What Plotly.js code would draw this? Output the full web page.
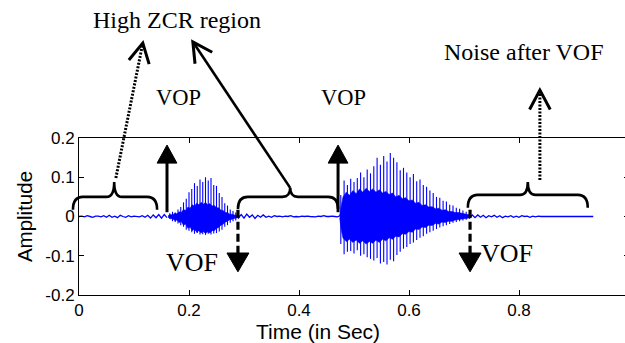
<!DOCTYPE html>
<html>
<head>
<meta charset="utf-8">
<script src="https://cdn.plot.ly/plotly-3.0.1.min.js"></script>
<style>
  html, body { margin: 0; padding: 0; overflow: hidden; background: #fff; }
  #chart { width: 640px; height: 343px; }
</style>
</head>
<body>
<div id="chart"></div>
<script>
// ---- Speech signal: low-level noise segments (sampled envelope, Hz) ----
const NOISE_RATE = 200;
const noiseLeadStart = 0.0;
const noiseLead = [0, 0.001, -0.001, 0.002, 0, -0.002, 0.001, 0.001, -0.001, 0.002, -0.002,
  0.003, -0.002, 0.001, -0.003, 0.003, 0, -0.002, 0.002, -0.001, 0.001, 0, -0.001,
  0.002, -0.002, 0.003, -0.004, 0.004, -0.003, 0.005, -0.004, 0.005, -0.003];
const noiseGapStart = 0.29;
const noiseGap = [-0.003, 0.005, -0.004, 0.006, -0.002, 0.004, -0.005, 0.003, -0.002, 0.004,
  -0.002, 0.001, -0.002, 0.002, 0, 0.001, -0.001, 0.001, 0, 0.002, -0.001, 0,
  -0.001, 0.001, 0, 0.001, 0, 0, -0.001, 0.001, 0, 0.002, 0, 0, 0.001, 0, -0.001, 0.002];
const noiseTailStart = 0.71;
const noiseTail = [-0.003, 0.004, -0.003, 0.004, -0.002, 0.003, -0.003, 0.002, -0.001, 0.003,
  -0.002, 0.002, -0.003, 0.001, -0.001, 0.002, -0.002, 0.001, -0.002, 0.002, 0, 0.001,
  -0.002, 0.001, -0.001, 0.001, 0, 0, 0, 0, 0, 0, 0, 0, 0, 0, 0, 0, 0, 0, 0, 0, 0, 0, 0, 0];

// ---- First voiced region: pitch pulses (peak/trough) and dense body ----
const v1PulseTime = [0.165, 0.170, 0.175, 0.180, 0.185, 0.190, 0.195, 0.200, 0.205, 0.210, 0.215,
  0.220, 0.225, 0.230, 0.235, 0.240, 0.245, 0.250, 0.255, 0.260, 0.265, 0.270, 0.275, 0.280, 0.285, 0.290];
const v1PulseHigh = [0.008, 0.012, 0.010, 0.018, 0.024, 0.036, 0.045, 0.062, 0.070, 0.085, 0.078,
  0.094, 0.088, 0.100, 0.092, 0.098, 0.080, 0.078, 0.060, 0.050, 0.034, 0.028, 0.018, 0.014, 0.010, 0.006];
const v1PulseLow = [-0.006, -0.012, -0.014, -0.018, -0.022, -0.026, -0.034, -0.036, -0.040, -0.044, -0.042,
  -0.046, -0.045, -0.047, -0.044, -0.046, -0.043, -0.042, -0.038, -0.034, -0.026, -0.022, -0.016, -0.012, -0.010, -0.006];
const v1BodyTime = [0.162, 0.166, 0.170, 0.174, 0.178, 0.182, 0.186, 0.190, 0.194, 0.198, 0.202, 0.206,
  0.210, 0.214, 0.218, 0.222, 0.226, 0.230, 0.234, 0.238, 0.242, 0.246, 0.250, 0.254, 0.258, 0.262,
  0.266, 0.270, 0.274, 0.278, 0.282, 0.286, 0.292];
const v1BodyHigh = [0.002, 0.005, 0.004, 0.008, 0.007, 0.012, 0.010, 0.018, 0.015, 0.024, 0.021, 0.030,
  0.026, 0.034, 0.030, 0.036, 0.031, 0.036, 0.030, 0.033, 0.027, 0.028, 0.022, 0.022, 0.016, 0.015,
  0.010, 0.010, 0.006, 0.006, 0.004, 0.003, 0.002];
const v1BodyLow = [-0.002, -0.006, -0.005, -0.010, -0.009, -0.015, -0.013, -0.022, -0.019, -0.030, -0.027, -0.036,
  -0.032, -0.040, -0.036, -0.042, -0.038, -0.043, -0.039, -0.042, -0.036, -0.036, -0.030, -0.028, -0.022, -0.020,
  -0.014, -0.012, -0.008, -0.007, -0.005, -0.003, -0.002];

// ---- Second voiced region ----
const v2PulseTime = [0.476, 0.482, 0.488, 0.494, 0.500, 0.506, 0.512, 0.518, 0.524, 0.530, 0.536, 0.542,
  0.548, 0.554, 0.560, 0.566, 0.572, 0.578, 0.584, 0.590, 0.596, 0.602, 0.608, 0.614, 0.620, 0.626,
  0.632, 0.638, 0.644, 0.650, 0.656, 0.662, 0.668, 0.674, 0.680, 0.686, 0.692, 0.698, 0.704, 0.710];
const v2PulseHigh = [0.055, 0.092, 0.080, 0.096, 0.088, 0.098, 0.112, 0.100, 0.120, 0.110, 0.128, 0.150,
  0.132, 0.154, 0.140, 0.162, 0.150, 0.138, 0.118, 0.124, 0.112, 0.100, 0.108, 0.090, 0.094, 0.080,
  0.076, 0.066, 0.060, 0.050, 0.048, 0.040, 0.038, 0.030, 0.028, 0.022, 0.020, 0.015, 0.012, 0.008];
const v2PulseLow = [-0.070, -0.096, -0.090, -0.088, -0.094, -0.086, -0.100, -0.096, -0.104, -0.108, -0.112, -0.106,
  -0.120, -0.116, -0.122, -0.110, -0.114, -0.098, -0.090, -0.082, -0.078, -0.070, -0.066, -0.060, -0.054, -0.050,
  -0.044, -0.040, -0.036, -0.032, -0.028, -0.025, -0.022, -0.019, -0.016, -0.014, -0.012, -0.010, -0.008, -0.006];
const v2BodyTime = [0.474, 0.477, 0.480, 0.486, 0.492, 0.498, 0.504, 0.510, 0.516, 0.522, 0.528, 0.534,
  0.540, 0.546, 0.552, 0.558, 0.564, 0.570, 0.576, 0.582, 0.588, 0.594, 0.600, 0.606, 0.612, 0.618,
  0.624, 0.630, 0.636, 0.642, 0.648, 0.654, 0.660, 0.666, 0.672, 0.678, 0.684, 0.690, 0.696, 0.702, 0.708, 0.713];
const v2BodyHigh = [0.004, 0.030, 0.050, 0.062, 0.054, 0.066, 0.058, 0.070, 0.062, 0.072, 0.064, 0.070,
  0.062, 0.068, 0.060, 0.064, 0.056, 0.060, 0.050, 0.054, 0.045, 0.048, 0.040, 0.042, 0.034, 0.036,
  0.028, 0.030, 0.024, 0.025, 0.020, 0.021, 0.016, 0.017, 0.013, 0.013, 0.010, 0.010, 0.008, 0.007, 0.005, 0.003];
const v2BodyLow = [-0.004, -0.035, -0.055, -0.064, -0.058, -0.066, -0.060, -0.068, -0.062, -0.070, -0.064, -0.068,
  -0.060, -0.066, -0.058, -0.062, -0.054, -0.058, -0.050, -0.052, -0.044, -0.045, -0.038, -0.040, -0.032, -0.033,
  -0.027, -0.028, -0.022, -0.023, -0.018, -0.019, -0.014, -0.015, -0.012, -0.012, -0.009, -0.009, -0.007, -0.006, -0.004, -0.003];

// ---- Axis ticks ----
const xTickVals = [0, 0.2, 0.4, 0.6, 0.8];
const xTickText = ['0', '0.2', '0.4', '0.6', '0.8'];
const yTickVals = [-0.2, -0.1, 0, 0.1, 0.2];
const yTickText = ['-0.2', '-0.1', '0', '0.1', '0.2'];

const BLUE = '#0000ff';
const FIG_W = 640, FIG_H = 343;
const M = { l: 79, r: 11, t: 138, b: 48 };
const PLOT_W = FIG_W - M.l - M.r;          // pixels per second (x range 0..1)
const PLOT_H = FIG_H - M.t - M.b;
const Y_MIN = -0.2, Y_MAX = 0.2;
const PX_PER_AMP = PLOT_H / (Y_MAX - Y_MIN);

// --- traces ---
function sampled(start, vals) {
  return { x: vals.map((_, i) => start + i / NOISE_RATE), y: vals };
}
function noiseTrace(start, vals) {
  const s = sampled(start, vals);
  return { type: 'scatter', mode: 'lines', x: s.x, y: s.y, line: { color: BLUE, width: 1.3 }, hoverinfo: 'skip' };
}
function bodyTrace(t, hi, lo) {
  return {
    type: 'scatter', mode: 'lines', fill: 'toself', fillcolor: BLUE,
    x: t.concat(t.slice().reverse()), y: hi.concat(lo.slice().reverse()),
    line: { color: BLUE, width: 0.6 }, hoverinfo: 'skip'
  };
}
function pulseTrace(t, hi, lo) {
  const x = [], y = [];
  t.forEach((ti, i) => { x.push(ti, ti, null); y.push(lo[i], hi[i], null); });
  return { type: 'scatter', mode: 'lines', x, y, line: { color: BLUE, width: 1.1 }, hoverinfo: 'skip', connectgaps: false };
}

const traces = [
  noiseTrace(noiseLeadStart, noiseLead),
  noiseTrace(noiseGapStart, noiseGap),
  noiseTrace(noiseTailStart, noiseTail),
  bodyTrace(v1BodyTime, v1BodyHigh, v1BodyLow),
  bodyTrace(v2BodyTime, v2BodyHigh, v2BodyLow),
  pulseTrace(v1PulseTime, v1PulseHigh, v1PulseLow),
  pulseTrace(v2PulseTime, v2PulseHigh, v2PulseLow)
];

// --- annotation geometry (time in s, amplitude) mapped to paper coords ---
const PX = t => t;                                // x range is [0, 1]
const PY = a => (a - Y_MIN) / (Y_MAX - Y_MIN);

function bracePath(x0, x1, xm, yBar, yEnd, yTip) {
  const r = 0.018, rt = 0.014;
  const b = PY(yBar);
  return `M${PX(x0)},${PY(yEnd)} Q${PX(x0)},${b} ${PX(x0 + r)},${b} L${PX(xm - rt)},${b} ` +
         `Q${PX(xm)},${b} ${PX(xm)},${PY(yTip)} Q${PX(xm)},${b} ${PX(xm + rt)},${b} ` +
         `L${PX(x1 - r)},${b} Q${PX(x1)},${b} ${PX(x1)},${PY(yEnd)}`;
}
function chevronPath(fromT, fromA, tipT, tipA, lenPx, angDeg) {
  const fx = fromT * PLOT_W, fy = fromA * PX_PER_AMP;
  const tx = tipT * PLOT_W, ty = tipA * PX_PER_AMP;
  const d = Math.hypot(tx - fx, ty - fy);
  const ux = (tx - fx) / d, uy = (ty - fy) / d;
  const a = angDeg * Math.PI / 180;
  const arm = s => {
    const rx = ux * Math.cos(s * a) - uy * Math.sin(s * a);
    const ry = ux * Math.sin(s * a) + uy * Math.cos(s * a);
    return [(tx - lenPx * rx) / PLOT_W, (ty - lenPx * ry) / PX_PER_AMP];
  };
  const p1 = arm(1), p2 = arm(-1);
  return `M${PX(p1[0])},${PY(p1[1])} L${PX(tipT)},${PY(tipA)} L${PX(p2[0])},${PY(p2[1])}`;
}
function triPath(t, baseA, tipA, halfW) {
  return `M${PX(t - halfW)},${PY(baseA)} L${PX(t + halfW)},${PY(baseA)} L${PX(t)},${PY(tipA)} Z`;
}
const pathShape = (path, opts) => Object.assign({
  type: 'path', xref: 'paper', yref: 'paper', path, layer: 'above',
  line: { color: '#000', width: 2.6 }
}, opts || {});
const lineShape = (t0, a0, t1, a1, width, dash) => ({
  type: 'line', xref: 'paper', yref: 'paper', layer: 'above',
  x0: PX(t0), y0: PY(a0), x1: PX(t1), y1: PY(a1),
  line: { color: '#000', width, dash: dash || 'solid' }
});

const shapes = [
  // braces over the unvoiced / noise regions
  pathShape(bracePath(-0.011, 0.142, 0.064, 0.050, 0.017, 0.088)),
  pathShape(bracePath(0.289, 0.471, 0.384, 0.050, 0.019, 0.073)),
  pathShape(bracePath(0.707, 0.925, 0.816, 0.055, 0.022, 0.088)),
  // VOP markers (solid up arrows)
  lineShape(0.160, 0.011, 0.160, 0.140, 3),
  pathShape(triPath(0.160, 0.136, 0.182, 0.018), { fillcolor: '#000', line: { color: '#000', width: 1 } }),
  lineShape(0.471, 0.011, 0.471, 0.140, 3),
  pathShape(triPath(0.471, 0.136, 0.182, 0.018), { fillcolor: '#000', line: { color: '#000', width: 1 } }),
  // VOF markers (dashed down arrows)
  lineShape(0.289, 0.017, 0.289, -0.093, 3.2, '8px,4px'),
  pathShape(triPath(0.289, -0.093, -0.141, 0.020), { fillcolor: '#000', line: { color: '#000', width: 1 } }),
  lineShape(0.711, 0.017, 0.711, -0.093, 3.2, '8px,4px'),
  pathShape(triPath(0.711, -0.093, -0.141, 0.020), { fillcolor: '#000', line: { color: '#000', width: 1 } }),
  // pointers to the labels
  lineShape(0.067, 0.098, 0.116, 0.442, 3, '2px,1.5px'),
  pathShape(chevronPath(0.067, 0.098, 0.116, 0.442, 22, 28), { line: { color: '#000', width: 3 } }),
  lineShape(0.384, 0.073, 0.207, 0.445, 2.6),
  pathShape(chevronPath(0.384, 0.073, 0.207, 0.445, 22, 28), { line: { color: '#000', width: 3 } }),
  lineShape(0.838, 0.093, 0.838, 0.322, 3, '2px,1.5px'),
  pathShape(chevronPath(0.838, 0.093, 0.838, 0.322, 22, 28), { line: { color: '#000', width: 3 } })
];

const SERIF = 'Liberation Serif, Times New Roman, serif';
const SANS = 'Liberation Sans, Arial, sans-serif';
const label = (text, t, a, size) => ({
  text, x: PX(t), y: PY(a), xref: 'paper', yref: 'paper', showarrow: false,
  xanchor: 'center', yanchor: 'middle', font: { family: SERIF, size, color: '#000' }
});
const annotations = [
  label('High ZCR region', 0.178, 0.501, 24),
  label('VOP', 0.180, 0.304, 22.5),
  label('VOP', 0.480, 0.304, 22.5),
  label('Noise after VOF', 0.809, 0.419, 24),
  label('VOF', 0.206, -0.117, 26),
  label('VOF', 0.778, -0.094, 26),
  // x-axis caption, centred under the visible part of the time axis
  {
    text: 'Time (in Sec)', x: 0.435, y: -0.15, xref: 'paper', yref: 'paper', showarrow: false,
    xanchor: 'center', yanchor: 'top', borderpad: 0,
    font: { family: SANS, size: 21, color: '#000' }
  }
];

const axisCommon = {
  showline: true, mirror: 'ticks', linecolor: '#000', linewidth: 1,
  ticks: 'inside', ticklen: 5, tickwidth: 1, tickcolor: '#000',
  showgrid: false, zeroline: false, tickmode: 'array',
  tickfont: { family: SANS, size: 17, color: '#000' }
};

const layout = {
  width: FIG_W, height: FIG_H,
  margin: M,
  paper_bgcolor: '#fff', plot_bgcolor: '#fff',
  showlegend: false,
  xaxis: Object.assign({}, axisCommon, {
    range: [0, 1], tickvals: xTickVals, ticktext: xTickText
  }),
  yaxis: Object.assign({}, axisCommon, {
    range: [Y_MIN, Y_MAX], tickvals: yTickVals, ticktext: yTickText,
    title: { text: 'Amplitude', font: { family: SANS, size: 20.5, color: '#000' }, standoff: 7 }
  }),
  shapes, annotations
};

Plotly.newPlot('chart', traces, layout, { staticPlot: true, displayModeBar: false });
</script>
</body>
</html>
